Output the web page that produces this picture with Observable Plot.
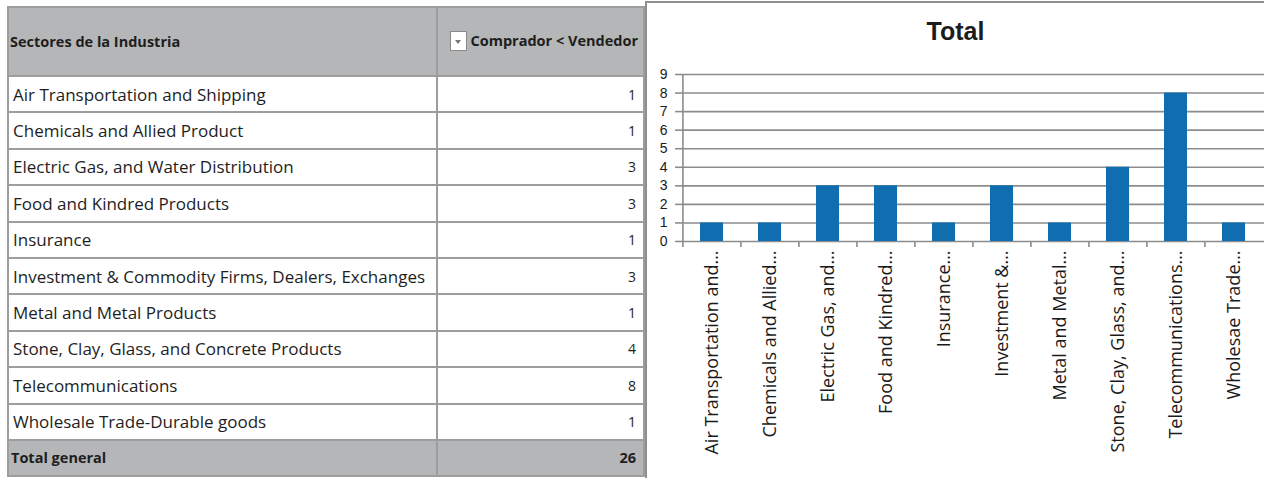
<!DOCTYPE html>
<html>
<head>
<meta charset="utf-8">
<script src="https://cdn.jsdelivr.net/npm/d3@7"></script>
<script src="https://cdn.jsdelivr.net/npm/@observablehq/plot@0.6"></script>
<style>
  body { margin: 0; width: 1264px; height: 478px; position: relative; overflow: hidden; background: #fff; font-family: "Open Sans", sans-serif; }
  #pivot { position: absolute; left: 7px; top: 6px; width: 636px; border-collapse: collapse; table-layout: fixed; border: 2px solid #8e8e8e; }
  #pivot td, #pivot th { border: 2px solid #9d9d9d; color: #1e1e1e; white-space: nowrap; overflow: hidden; }
  #pivot thead th { height: 67px; background: #b5b6b8; font-size: 14.5px; font-weight: 700; }
  #pivot tbody td { height: 34.4px; padding: 0; font-size: 17px; }
  #pivot tfoot td { height: 34px; padding: 0; background: #b5b6b8; font-size: 14.5px; font-weight: 700; }
  #pivot .name { text-align: left; padding: 0 4px; }
  #pivot thead .name { padding-left: 1px; }
  #pivot tfoot .name { padding-left: 2px; }
  #pivot .num { text-align: right; padding: 0 7px 0 4px; }
  #pivot tbody .num { font-size: 14px; }
  #pivot thead .num { padding-right: 5px; }
  .drop { display: inline-block; width: 15px; height: 18px; border: 1px solid #8a8a8a; background: #fff; vertical-align: middle; margin-right: 3px; position: relative; top: -1px; }
  .drop::after { content: ""; position: absolute; left: 4px; top: 8px; border-left: 3.5px solid transparent; border-right: 3.5px solid transparent; border-top: 4px solid #777; }
  #panel { position: absolute; left: 645px; top: 1px; width: 619px; height: 477px; box-sizing: border-box; border-left: 2px solid #8f8f8f; border-top: 2px solid #8f8f8f; }
  #title { height: 45px; text-align: center; font-family: "Liberation Sans", Arial, sans-serif; font-weight: 700; font-size: 25px; line-height: 25px; box-sizing: border-box; color: #1c1c1c; }
  #title span { position: relative; top: 16px; }
  #chart svg { display: block; overflow: visible; }
</style>
</head>
<body>
<table id="pivot">
  <colgroup><col style="width:429px"><col style="width:207px"></colgroup>
  <thead><tr><th class="name" id="h1"></th><th class="num"><span class="drop"></span><span id="h2"></span></th></tr></thead>
  <tbody id="rows"></tbody>
  <tfoot><tr><td class="name" id="f1"></td><td class="num" id="f2"></td></tr></tfoot>
</table>
<div id="panel">
  <div id="title"><span id="titleText"></span></div>
  <div id="chart"></div>
</div>
<script>
// Industry sectors and the number of deals where buyer < seller
const sectors = [
  "Air Transportation and Shipping",
  "Chemicals and Allied Product",
  "Electric Gas, and Water Distribution",
  "Food and Kindred Products",
  "Insurance",
  "Investment & Commodity Firms, Dealers, Exchanges",
  "Metal and Metal Products",
  "Stone, Clay, Glass, and Concrete Products",
  "Telecommunications",
  "Wholesale Trade-Durable goods"
];
const counts = [1, 1, 3, 3, 1, 3, 1, 4, 8, 1];
// Shortened category labels shown under the bars
const tickLabels = [
  "Air Transportation and…",
  "Chemicals and Allied…",
  "Electric Gas, and…",
  "Food and Kindred…",
  "Insurance…",
  "Investment &…",
  "Metal and Metal…",
  "Stone, Clay, Glass, and…",
  "Telecommunications…",
  "Wholesae Trade…"
];
const yTicks = [0, 1, 2, 3, 4, 5, 6, 7, 8, 9];
const headers = ["Sectores de la Industria", "Comprador < Vendedor"];
const totalLabel = "Total general";
const chartTitle = "Total";

// Pivot table
document.getElementById("h1").textContent = headers[0];
document.getElementById("h2").textContent = headers[1];
const tbody = document.getElementById("rows");
sectors.forEach((s, i) => {
  const tr = document.createElement("tr");
  const a = document.createElement("td"); a.className = "name"; a.textContent = s;
  const b = document.createElement("td"); b.className = "num"; b.textContent = counts[i];
  tr.append(a, b); tbody.append(tr);
});
document.getElementById("f1").textContent = totalLabel;
document.getElementById("f2").textContent = d3.sum(counts);

// Column chart
document.getElementById("titleText").textContent = chartTitle;
const data = sectors.map((sector, i) => ({sector, count: counts[i]}));
const W = 617, H = 430, mL = 35, mR = 0;
const step = (W - mL - mR) / sectors.length;
const lineColor = "#8c8c8c";

const chart = Plot.plot({
  width: W,
  height: H,
  marginTop: 26,
  marginBottom: 237,
  marginLeft: mL,
  marginRight: mR,
  style: {background: "transparent", color: "#1a1a1a", overflow: "visible"},
  x: {domain: sectors, paddingInner: 0.6, paddingOuter: 0.3, axis: null},
  y: {domain: [0, 9], axis: null},
  marks: [
    Plot.ruleY(yTicks, {stroke: lineColor, strokeWidth: 1.6}),
    Plot.axisY({ticks: yTicks, tickSize: 7, tickPadding: 8, label: null, stroke: lineColor, strokeWidth: 1.6,
      fontFamily: "Liberation Sans, Arial, sans-serif", fontSize: 14, fill: "#1a1a1a"}),
    Plot.barY(data, {x: "sector", y: "count", fill: "#106db0"}),
    Plot.ruleX([sectors[0]], {dx: -step / 2, stroke: lineColor, strokeWidth: 1.6}),
    Plot.axisX({tickSize: 6, tickFormat: () => "", label: null, dx: -step / 2, stroke: lineColor, strokeWidth: 1.6}),
    Plot.axisX({tickSize: 0, tickPadding: 9, tickRotate: -90, label: null,
      tickFormat: d => tickLabels[sectors.indexOf(d)],
      fontFamily: "Open Sans, sans-serif", fontSize: 18, fill: "#1a1a1a"})
  ]
});
document.getElementById("chart").append(chart);
</script>
</body>
</html>
